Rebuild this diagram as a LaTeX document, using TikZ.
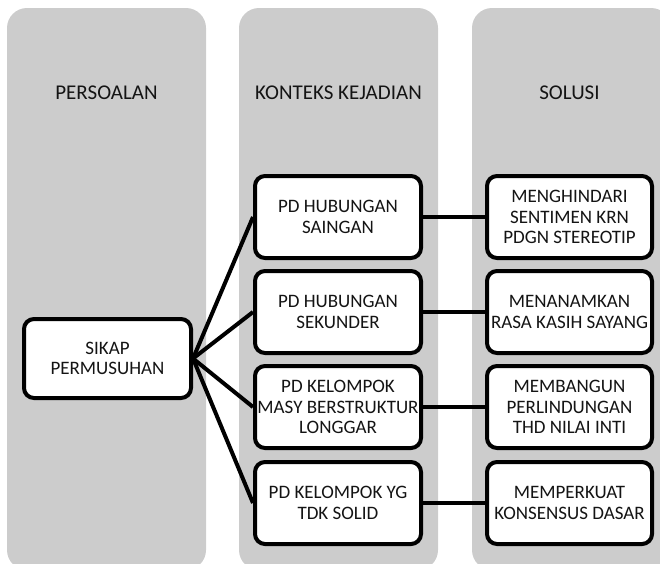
\documentclass[tikz,border=0pt]{standalone}
\usepackage{fontspec}
\setmainfont{Carlito}
\definecolor{lanegray}{HTML}{CCCCCC}
\definecolor{inktext}{HTML}{141414}
\begin{document}
\begin{tikzpicture}[x=1pt,y=-1pt,
  lane/.style={fill=lanegray, draw=none, rounded corners=20pt},
  header/.style={text=inktext, font=\fontsize{21}{24}\selectfont},
  card/.style={draw=black, fill=white, line width=4pt, rounded corners=10pt,
    align=center, text=inktext, inner sep=0pt,
    font=\fontsize{19}{20.5}\selectfont,
    minimum width=166pt, minimum height=82pt},
  link/.style={draw=black, line width=4pt}]
\useasboundingbox (0,0) rectangle (660,563);

% three background lanes, running off the lower and right edges
\begin{scope}
  \clip (0,0) rectangle (660,563);
  \path[lane] (7,8) rectangle (206,570);
  \path[lane] (239,8) rectangle (438,570);
  \path[lane] (472,8) rectangle (671,570);
\end{scope}

% lane titles
\node[header] (hp) at (106.5,93) {PERSOALAN};
\node[header] (hk) at (338.5,93) {KONTEKS KEJADIAN};
\node[header] (hs) at (569.5,93) {SOLUSI};

% problem
\node[card, minimum width=167pt, minimum height=79pt] (sikap) at (107.5,358.5)
  {SIKAP\\PERMUSUHAN};

% contexts
\node[card] (k1) at (338,217) {PD HUBUNGAN\\SAINGAN};
\node[card] (k2) at (338,312) {PD HUBUNGAN\\SEKUNDER};
\node[card] (k3) at (338,407) {PD KELOMPOK\\MASY BERSTRUKTUR\\LONGGAR};
\node[card] (k4) at (338,503) {PD KELOMPOK YG\\TDK SOLID};

% solutions
\node[card, minimum width=165pt] (s1) at (569.5,217) {MENGHINDARI\\SENTIMEN KRN\\PDGN STEREOTIP};
\node[card, minimum width=165pt] (s2) at (569.5,312) {MENANAMKAN\\RASA KASIH SAYANG};
\node[card, minimum width=165pt] (s3) at (569.5,407) {MEMBANGUN\\PERLINDUNGAN\\THD NILAI INTI};
\node[card, minimum width=165pt] (s4) at (569.5,503) {MEMPERKUAT\\KONSENSUS DASAR};

% connectors
\foreach \k in {k1,k2,k3,k4}
  \draw[link] (sikap.east) -- (\k.west);
\foreach \k/\s in {k1/s1,k2/s2,k3/s3,k4/s4}
  \draw[link] (\k.east) -- (\s.west);

\end{tikzpicture}
\end{document}
